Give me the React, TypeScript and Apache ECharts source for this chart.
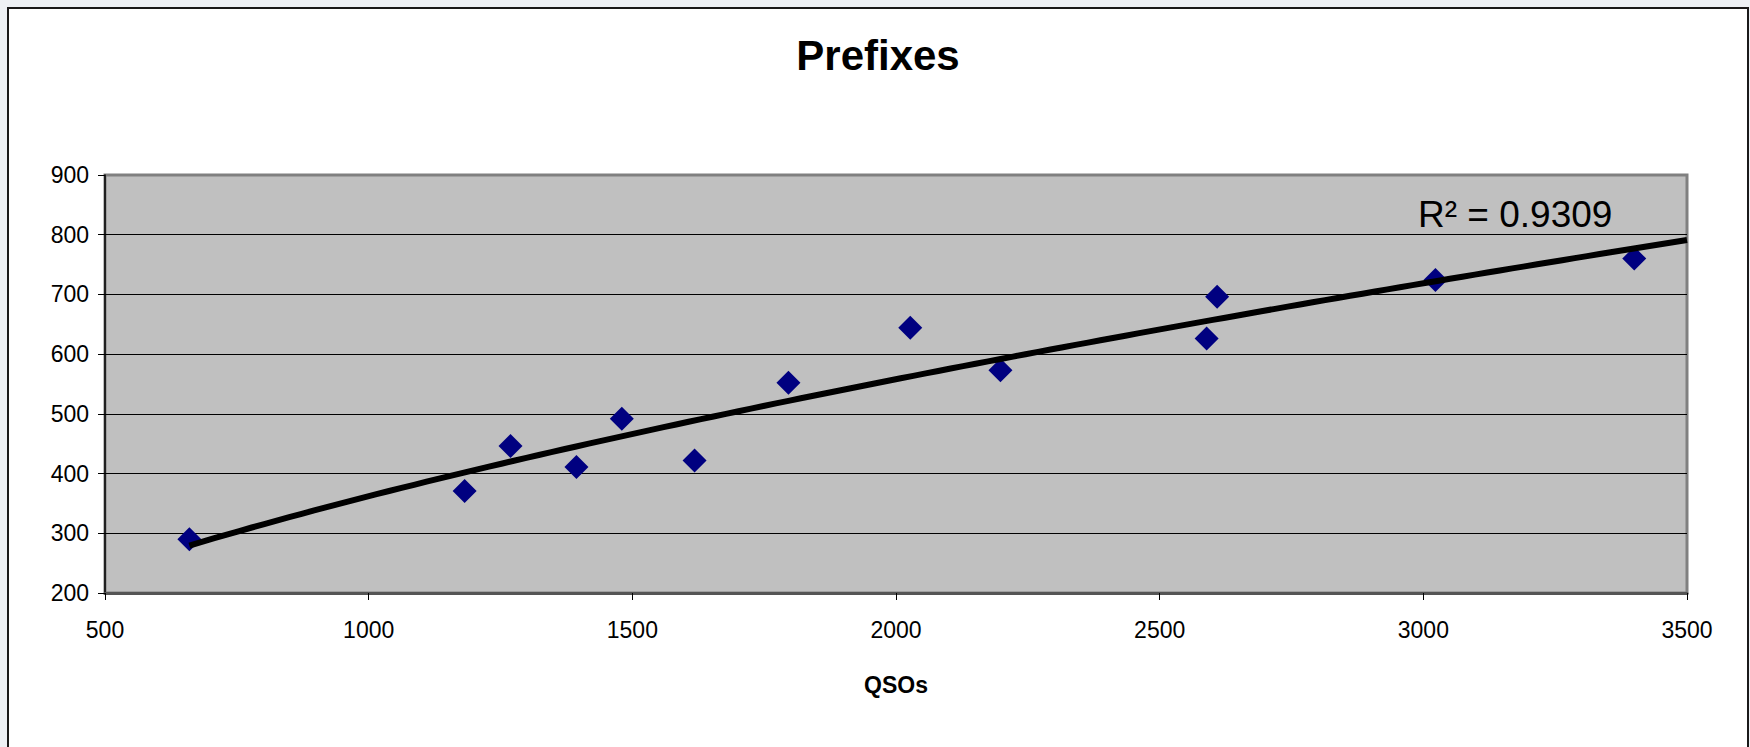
import React, { useEffect, useRef } from "react";
import * as echarts from "echarts";

const qsos = [660, 1182, 1269, 1394, 1480, 1618, 1796, 2027, 2198, 2589, 2609, 3023, 3400];
const prefixes = [290, 371, 446, 411, 492, 422, 552, 644, 573, 626, 696, 724, 760];
const xTicks = [500, 1000, 1500, 2000, 2500, 3000, 3500];
const yTicks = [200, 300, 400, 500, 600, 700, 800, 900];
const rSquaredLabel = "R² = 0.9309";
const titleText = "Prefixes";
const xAxisTitle = "QSOs";

function powerFit(xs: number[], ys: number[]) {
  const n = xs.length;
  let sx = 0, sy = 0, sxx = 0, sxy = 0;
  for (let i = 0; i < n; i++) {
    const lx = Math.log(xs[i]);
    const ly = Math.log(ys[i]);
    sx += lx; sy += ly; sxx += lx * lx; sxy += lx * ly;
  }
  const b = (n * sxy - sx * sy) / (n * sxx - sx * sx);
  const lnA = (sy - b * sx) / n;
  return { a: Math.exp(lnA), b };
}

export default function App() {
  const ref = useRef<HTMLDivElement>(null);
  useEffect(() => {
    document.body.style.margin = "0";
    if (!ref.current) return;
    const chart = echarts.init(ref.current, null, { renderer: "svg" });
    const fit = powerFit(qsos, prefixes);
    const xStart = Math.min(...qsos);
    const xEnd = xTicks[xTicks.length - 1];
    const trend: number[][] = [];
    const steps = 120;
    for (let i = 0; i <= steps; i++) {
      const x = xStart + ((xEnd - xStart) * i) / steps;
      trend.push([x, fit.a * Math.pow(x, fit.b)]);
    }
    const font = "'Liberation Sans', Arial, sans-serif";
    chart.setOption({
      animation: false,
      backgroundColor: "#eef1f5",
      graphic: [
        {
          type: "rect",
          z: -10,
          silent: true,
          shape: { x: 8, y: 8, width: 1740, height: 760 },
          style: { fill: "#ffffff", stroke: "#1a1a1a", lineWidth: 2 },
        },
        {
          type: "text",
          x: 878,
          y: 55,
          style: {
            text: titleText,
            font: `bold 42px ${font}`,
            fill: "#000",
            textAlign: "center",
            textVerticalAlign: "middle",
          },
        },
        {
          type: "text",
          x: 1418,
          y: 214,
          z: 10,
          style: {
            text: rSquaredLabel,
            font: `37px ${font}`,
            fill: "#000",
            textAlign: "left",
            textVerticalAlign: "middle",
          },
        },
        {
          type: "text",
          x: 896,
          y: 685,
          style: {
            text: xAxisTitle,
            font: `bold 23px ${font}`,
            fill: "#000",
            textAlign: "center",
            textVerticalAlign: "middle",
          },
        },
      ],
      grid: {
        left: 105,
        right: 63,
        top: 175,
        bottom: 154,
        show: true,
        backgroundColor: "#c0c0c0",
        borderColor: "#808080",
        borderWidth: 3,
        z: 0,
      },
      xAxis: {
        type: "value",
        min: xTicks[0],
        max: xTicks[xTicks.length - 1],
        interval: 500,
        axisLine: { show: true, onZero: false, lineStyle: { color: "#555555", width: 3 } },
        axisTick: { show: true, inside: false, length: 7, lineStyle: { color: "#000", width: 1 } },
        axisLabel: {
          color: "#000",
          fontSize: 23,
          fontFamily: font,
          margin: 25,
          formatter: (v: number) => String(v),
        },
        splitLine: { show: false },
      },
      yAxis: {
        type: "value",
        min: yTicks[0],
        max: yTicks[yTicks.length - 1],
        interval: 100,
        axisLine: { show: true, onZero: false, lineStyle: { color: "#000", width: 1.5 } },
        axisTick: { show: true, inside: false, length: 7, lineStyle: { color: "#000", width: 1 } },
        axisLabel: {
          color: "#000",
          fontSize: 23,
          fontFamily: font,
          margin: 16,
          formatter: (v: number) => String(v),
        },
        splitLine: {
          show: true,
          lineStyle: {
            color: ["#555555", "#000", "#000", "#000", "#000", "#000", "#000", "#808080"],
            width: 1,
          },
        },
      },
      series: [
        {
          type: "scatter",
          data: qsos.map((x, i) => [x, prefixes[i]]),
          symbol: "diamond",
          symbolSize: 24,
          itemStyle: { color: "#000080", opacity: 1 },
          z: 2,
        },
        {
          type: "line",
          data: trend,
          showSymbol: false,
          symbol: "none",
          smooth: false,
          lineStyle: { color: "#000", width: 6 },
          z: 3,
        },
      ],
    });
    return () => chart.dispose();
  }, []);
  return <div ref={ref} style={{ width: 1750, height: 747 }} />;
}
